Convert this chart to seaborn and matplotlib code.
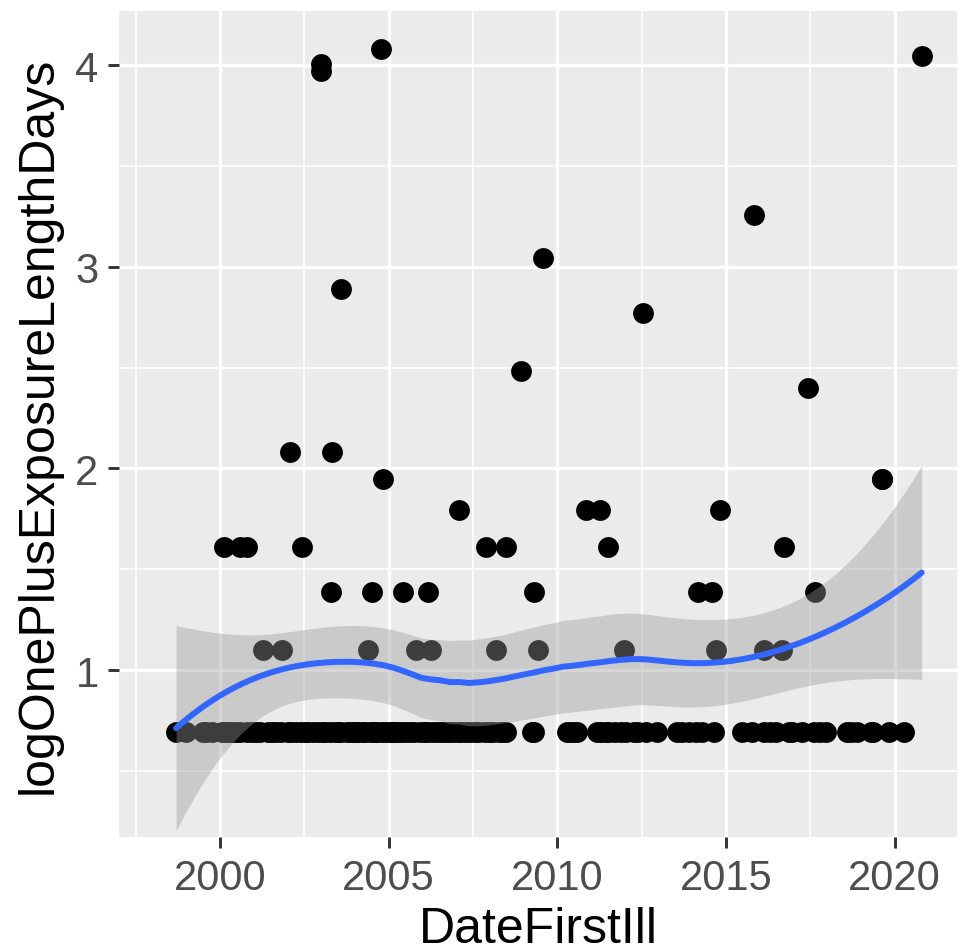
import numpy as np
import pandas as pd
import matplotlib
matplotlib.use("Agg")
import matplotlib.pyplot as plt
import seaborn as sns
from matplotlib.ticker import MultipleLocator

# ---- data (year of first illness, log(1 + exposure length in days)) ----
# bottom row (1 day), front layer
years_l2 = [1998.70, 1998.99, 1999.50, 1999.76, 2000.06, 2000.24, 2000.47, 2000.80,
            2001.07, 2001.42, 2001.66, 2002.01, 2002.25, 2002.51, 2002.75, 2003.02,
            2003.25, 2003.49, 2003.76, 2003.99, 2004.20, 2004.44, 2004.67, 2004.91,
            2005.15, 2005.38, 2005.62, 2005.92, 2006.15, 2006.42, 2006.66, 2006.92,
            2007.16, 2007.40, 2007.69, 2007.99, 2008.28, 2008.49, 2009.26, 2010.30,
            2010.59, 2011.18, 2011.54, 2011.89, 2012.28, 2012.63, 2012.96, 2013.55,
            2013.91, 2014.29, 2014.64, 2015.47, 2015.77, 2016.12, 2016.48, 2016.86,
            2017.25, 2017.60, 2017.96, 2018.58, 2018.88, 2019.29, 2019.82, 2020.27]
# bottom row, overlapping (hidden) points
years_l2_hidden = [1999.60, 2000.15, 2000.35, 2000.60, 2000.95, 2001.20, 2001.55,
                   2001.80, 2002.10, 2002.40, 2002.60, 2002.90, 2003.10, 2003.40, 2003.60,
                   2003.85, 2004.10, 2004.30, 2004.55, 2004.80, 2005.05, 2005.25, 2005.50,
                   2005.75, 2006.05, 2006.30, 2006.55, 2006.80, 2007.05, 2007.30, 2007.55,
                   2007.85, 2008.10, 2008.40, 2009.30, 2010.40, 2010.50, 2011.30, 2011.45,
                   2011.70, 2012.05, 2012.40, 2013.70, 2014.10,
                   2016.30, 2016.95, 2017.80, 2018.70, 2019.35,
                   2004.60, 2005.10, 2004.00]
years_l3 = [2001.27, 2001.83, 2004.38, 2005.80, 2006.27, 2008.17, 2009.44, 2011.98,
            2014.70, 2016.12, 2016.66]
years_l4 = [2003.28, 2004.50, 2005.44, 2006.18, 2009.32, 2014.17, 2014.59, 2017.63]
years_l5 = [2000.12, 2000.59, 2000.80, 2002.43, 2007.90, 2008.49, 2011.51, 2016.72]
years_l6 = [2007.10, 2010.86, 2011.27, 2014.82]
years_l7 = [2004.82, 2019.62, 2019.62]
years_l8 = [2002.07, 2003.31]
other_years = [2008.93, 2017.43, 2012.54, 2003.58, 2009.59, 2015.83,
               2002.99, 2002.99, 2020.80, 2004.76]
other_values = [2.485, 2.398, 2.773, 2.890, 3.045, 3.258,
                3.970, 4.007, 4.043, 4.078]

level_years = [years_l2, years_l2_hidden, years_l3, years_l4, years_l5, years_l6,
               years_l7, years_l8]
level_values = [np.log(2), np.log(2), np.log(3), np.log(4), np.log(5), np.log(6),
                np.log(7), np.log(8)]

xs, ys = [], []
for yrs, v in zip(level_years, level_values):
    xs += yrs
    ys += [v] * len(yrs)
xs += other_years
ys += other_values
df = pd.DataFrame({"DateFirstIll": xs, "logOnePlusExposureLengthDays": ys})

# ---- loess (degree 2, span 0.75) with standard errors ----
def loess_rows(x, x0s, span=0.75):
    n = len(x)
    q = int(np.floor(n * span))
    rows = []
    for x0 in x0s:
        d = np.abs(x - x0)
        h = np.sort(d)[q - 1]
        w = np.clip(1 - (d / h) ** 3, 0, None) ** 3
        X = np.column_stack([np.ones(n), x - x0, (x - x0) ** 2])
        XtW = X.T * w
        A = np.linalg.pinv(XtW @ X)
        rows.append((A @ XtW)[0])
    return np.array(rows)

x = df["DateFirstIll"].to_numpy()
y = df["logOnePlusExposureLengthDays"].to_numpy()
L = loess_rows(x, x)
res = y - L @ y
M = np.eye(len(x)) - L
MtM = M.T @ M
d1 = np.trace(MtM)
d2 = np.trace(MtM @ MtM)
sigma = np.sqrt(np.sum(res ** 2) / d1)
dfree = d1 ** 2 / d2
tq = 1.96 + 2.4 / max(dfree, 1)
grid = np.linspace(x.min(), x.max(), 80)
Lg = loess_rows(x, grid)
fit = Lg @ y
se = sigma * np.sqrt(np.sum(Lg ** 2, axis=1))
fit_df = pd.DataFrame({"DateFirstIll": grid, "fit": fit,
                       "lo": fit - tq * se, "hi": fit + tq * se})

# ---- plot ----
sns.set_theme(style="darkgrid", rc={
    "axes.facecolor": "#EBEBEB",
    "grid.color": "white",
    "axes.edgecolor": "none",
})
plt.rcParams["font.family"] = ["Liberation Sans", "DejaVu Sans"]

fig = plt.figure(figsize=(9.59, 9.53), dpi=100)
ax = fig.add_axes([0.1245, 0.1207, 0.8735, 0.8665])

sns.scatterplot(data=df, x="DateFirstIll", y="logOnePlusExposureLengthDays",
                color="black", s=225, linewidth=0, ax=ax, zorder=3)
ax.fill_between(fit_df["DateFirstIll"], fit_df["lo"], fit_df["hi"],
                color="#999999", alpha=0.4, linewidth=0, zorder=4)
sns.lineplot(data=fit_df, x="DateFirstIll", y="fit", color="#3366FF",
             linewidth=4.3, ax=ax, zorder=5)

ax.set_xlim(1997.02, 2021.85)
ax.set_ylim(0.173, 4.267)
ax.xaxis.set_major_locator(MultipleLocator(5))
ax.xaxis.set_minor_locator(MultipleLocator(2.5))
ax.yaxis.set_major_locator(MultipleLocator(1))
ax.yaxis.set_minor_locator(MultipleLocator(0.5))
ax.grid(which="major", color="white", linewidth=2.4)
ax.grid(which="minor", color="white", linewidth=1.2)
ax.set_axisbelow(True)
for s in ax.spines.values():
    s.set_visible(False)

ax.tick_params(axis="both", which="major", length=8, width=2.1, color="#333333",
               labelsize=30, labelcolor="#4D4D4D", pad=7, bottom=True, left=True)
ax.tick_params(axis="both", which="minor", length=0)
ax.set_xlabel("DateFirstIll", fontsize=36, color="black", labelpad=6)
ax.set_ylabel("logOnePlusExposureLengthDays", fontsize=36, color="black", labelpad=10)

fig.savefig("out.png", dpi=100)
